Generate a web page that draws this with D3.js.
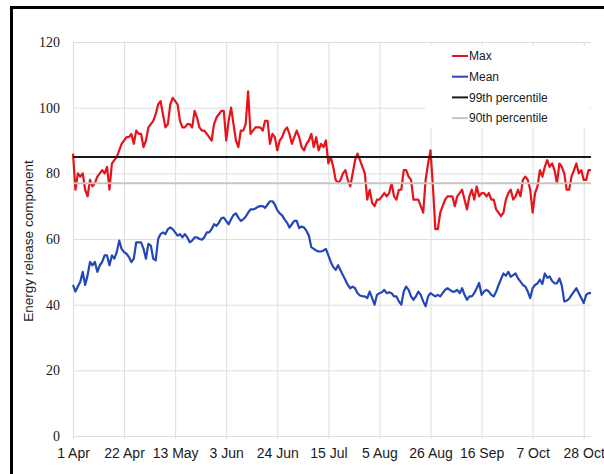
<!DOCTYPE html>
<html>
<head>
<meta charset="utf-8">
<script src="https://cdn.jsdelivr.net/npm/d3@7"></script>
<style>
body { margin: 0; background: #fff; }
svg { display: block; }
</style>
</head>
<body>
<div id="chart"></div>
<script>
// daily values from 1 Apr to 31 Oct
var startDate = "2019-04-01";
var maxValues = [
  86,75,80,79,80,75,73,
  78,76,77,79,80,81,80,
  82,75,83,84,85,87,89,
  90,91,91,92,89,93,92,
  92,88,90,94,95,96,98,
  101,102,98,94,95,101,103,
  102,101,96,94,94,95,95,
  94,99,97,94,93,93,92,
  91,90,95,97,98,99,99,
  90,96,100,95,90,88,93,
  93,95,105,92,93,94,94,
  94,93,96,96,89,92,91,
  87,90,91,93,94,92,89,
  91,93,91,88,87,89,90,
  92,88,91,87,89,88,90,
  83,85,82,78,77,78,80,
  81,78,76,80,84,86,84,
  82,80,72,75,71,70,72,
  72,73,74,73,74,77,73,
  72,75,75,81,81,79,78,
  72,72,72,70,68,78,83,
  87,76,63,63,68,70,72,
  73,73,73,70,73,74,75,
  72,69,73,75,72,76,73,
  74,74,73,74,72,72,69,
  68,67,68,72,74,75,72,
  73,75,73,78,79,78,75,
  68,74,76,81,79,82,84,
  82,83,81,77,83,82,80,
  75,75,79,81,83,80,81,
  78,78,81,81
];
var meanValues = [
  46,44,45.5,47,50,46,49,
  53,52,53,50,52,53,55,
  55,52,55,54,56,59.5,57,
  56,55.5,54.5,53,54,59,59,
  59,57,54,58.5,58,54,53.5,
  60,61.5,62,61.5,63,63.5,63,
  62,61,61.5,60.5,61.5,60.5,59,
  59.5,60.5,60.5,60,59.8,60.5,62,
  62,63,64.5,64,65,66.3,66.5,
  65.5,64.5,66,67.3,67.8,66.5,65.5,
  66,66.8,68,69,69,69.3,69.8,
  70,70,69.5,70.5,71.5,71.5,70.5,
  68.8,67.8,67.2,66,65,63.5,64.5,
  65.5,65.5,63.3,63.8,63.5,62.5,61,
  57.5,57,56.5,56.2,56.2,56.5,57,
  55,53,51.5,50.6,52,50.5,49,
  47.5,46,45,45.5,45,43.5,42.8,
  42.6,42.5,42,44,42,40,43,
  43.5,43.8,44.5,43.5,43.8,43.5,42.5,
  42.5,41,40,44,45.5,44.5,42.5,
  41.5,42.5,44,43,41,39.5,42.5,
  43.5,43,42.5,43,42.5,43.5,44.5,
  45,44.5,44,44,44.5,43.5,45,
  43,41.5,42.5,42.5,43.5,45,46.6,
  43,44,44.5,44,43,42.5,44,
  46,47.8,49.5,48.8,50,48.5,49,
  49.5,48,47,46,45.5,44,42,
  45,46,46.5,47.6,46.3,49.5,48.2,
  48.6,47.2,46.5,46.5,48,45.8,41,
  41.2,41.8,43,44,45,43.5,42,
  40.5,43,43.5,43.5
];
var pct99 = 85;
var pct90 = 77;
var tickDates = ["2019-04-01","2019-04-22","2019-05-13","2019-06-03","2019-06-24",
  "2019-07-15","2019-08-05","2019-08-26","2019-09-16","2019-10-07","2019-10-28"];
var tickLabels = ["1 Apr","22 Apr","13 May","3 Jun","24 Jun","15 Jul","5 Aug",
  "26 Aug","16 Sep","7 Oct","28 Oct"];
var yTicks = [0, 20, 40, 60, 80, 100, 120];
var seriesNames = ["Max", "Mean", "99th percentile", "90th percentile"];
var seriesColors = ["#e8121b", "#2447b8", "#1a1a1a", "#c6c6c6"];

var W = 604, H = 474;
var margin = {top: 42, right: 13, bottom: 38, left: 73};
var width = W - margin.left - margin.right;
var height = H - margin.top - margin.bottom;

var parse = d3.timeParse("%Y-%m-%d");
var start = parse(startDate);
var dates = maxValues.map(function(v, i) { return d3.timeDay.offset(start, i); });

var svg = d3.select("#chart").append("svg")
  .attr("width", W)
  .attr("height", H);

// outer frame (only the top and left edges are in view)
svg.append("path")
  .attr("d", "M11.5,480 L11.5,7.5 L610,7.5")
  .attr("fill", "none")
  .attr("stroke", "#000")
  .attr("stroke-width", 3);

var g = svg.append("g")
  .attr("transform", "translate(" + margin.left + "," + margin.top + ")");

var x = d3.scaleTime()
  .domain([start, dates[dates.length - 1]])
  .range([0, width]);
var y = d3.scaleLinear().domain([0, 120]).range([height, 0]);

// gridlines
g.append("g")
  .attr("class", "grid-y")
  .call(d3.axisLeft(y).tickValues(yTicks).tickSize(-width).tickFormat(""))
  .call(function(s) {
    s.select(".domain").remove();
    s.selectAll("line").attr("stroke", "#dedede").attr("stroke-width", 1);
  });
g.append("g")
  .attr("class", "grid-x")
  .attr("transform", "translate(0," + height + ")")
  .call(d3.axisBottom(x).tickValues(tickDates.map(parse)).tickSize(height + 3).tickFormat(""))
  .call(function(s) {
    s.select(".domain").remove();
    s.selectAll("line").attr("stroke", "#dedede").attr("stroke-width", 1)
      .attr("y1", 3).attr("y2", -height);
  });

// axes labels
g.append("g")
  .attr("transform", "translate(0," + height + ")")
  .call(d3.axisBottom(x).tickValues(tickDates.map(parse)).tickSize(0).tickPadding(12)
    .tickFormat(function(d, i) { return tickLabels[i]; }))
  .call(function(s) {
    s.select(".domain").remove();
    s.selectAll("text")
      .attr("fill", "#1a1a1a")
      .style("font-family", "'Liberation Sans', Arial, sans-serif")
      .style("font-size", "14px");
  });
g.append("g")
  .call(d3.axisLeft(y).tickValues(yTicks).tickSize(0).tickPadding(13))
  .call(function(s) {
    s.select(".domain").remove();
    s.selectAll("text")
      .attr("fill", "#1a1a1a")
      .style("font-family", "'Liberation Serif', 'Times New Roman', serif")
      .style("font-size", "14px");
  });

svg.append("text")
  .attr("transform", "translate(33," + (margin.top + height / 2 + 2) + ") rotate(-90)")
  .attr("text-anchor", "middle")
  .style("font-family", "'Liberation Sans', Arial, sans-serif")
  .style("font-size", "13.5px")
  .attr("fill", "#1a1a1a")
  .text("Energy release component");

// legend box
var legend = g.append("g").attr("transform", "translate(352,4)");
legend.append("rect")
  .attr("width", 164).attr("height", 82)
  .attr("fill", "#fff");

var line = d3.line()
  .x(function(d, i) { return x(dates[i]); })
  .y(function(d) { return y(d); });

g.append("path")
  .datum(maxValues)
  .attr("fill", "none")
  .attr("stroke", seriesColors[0])
  .attr("stroke-width", 2.2)
  .attr("stroke-linejoin", "round")
  .attr("d", line);

g.append("path")
  .datum(meanValues)
  .attr("fill", "none")
  .attr("stroke", seriesColors[1])
  .attr("stroke-width", 2.2)
  .attr("stroke-linejoin", "round")
  .attr("d", line);

var refs = [pct99, pct90];
g.selectAll(".ref")
  .data(refs)
  .enter()
  .append("line")
  .attr("class", "ref")
  .attr("x1", 0)
  .attr("x2", width)
  .attr("y1", function(d) { return y(d); })
  .attr("y2", function(d) { return y(d); })
  .attr("stroke", function(d, i) { return seriesColors[i + 2]; })
  .attr("stroke-width", 2);

var item = legend.selectAll(".item")
  .data(seriesNames)
  .enter()
  .append("g")
  .attr("class", "item")
  .attr("transform", function(d, i) { return "translate(0," + (10 + i * 20.7) + ")"; });
item.append("line")
  .attr("x1", 27).attr("x2", 43)
  .attr("stroke", function(d, i) { return seriesColors[i]; })
  .attr("stroke-width", 2);
item.append("text")
  .attr("x", 44)
  .attr("dy", "0.35em")
  .style("font-family", "'Liberation Sans', Arial, sans-serif")
  .style("font-size", "12px")
  .attr("fill", "#1a1a1a")
  .text(function(d) { return d; });
</script>
</body>
</html>
